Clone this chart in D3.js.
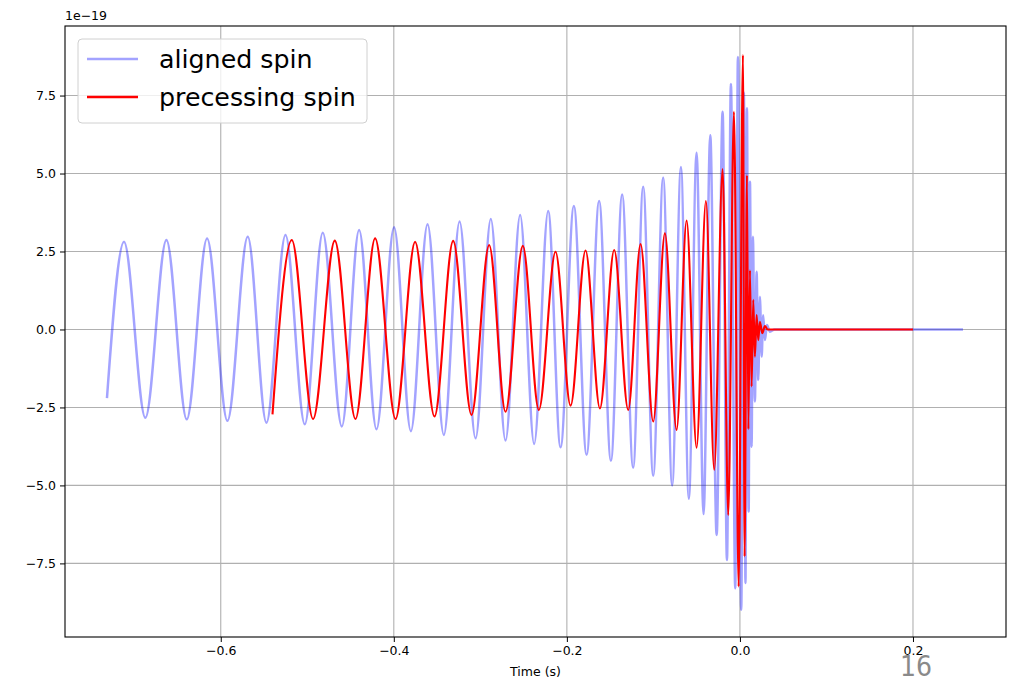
<!DOCTYPE html>
<html>
<head>
<meta charset="utf-8">
<script src="https://cdn.jsdelivr.net/npm/d3@7"></script>
<style>
  body { margin: 0; background: #fff; }
  svg { font-family: "DejaVu Sans", sans-serif; }
</style>
</head>
<body>
<div id="chart"></div>
<script>
// waveform extrema (time in s, strain in 1e-19)
var alignedT = [-0.7315, -0.7118, -0.6871, -0.6628, -0.6393, -0.6158, -0.5923, -0.5688, -0.5472, -0.5252,
  -0.5029, -0.4821, -0.4601, -0.4401, -0.4200, -0.3997, -0.3803, -0.3610, -0.3422, -0.3240,
  -0.3055, -0.2879, -0.2709, -0.2540, -0.2378, -0.2216, -0.2073, -0.1919, -0.1772, -0.1627,
  -0.1491, -0.1361, -0.1234, -0.1118, -0.1002, -0.0887, -0.0783, -0.0682, -0.0590, -0.0501,
  -0.0420, -0.0343, -0.0269, -0.0200, -0.0150, -0.0104, -0.0054, -0.0023, 0.0015, 0.0046,
  0.0064, 0.0081, 0.0101, 0.0116, 0.0135, 0.0150, 0.0173, 0.0193, 0.0212, 0.0231,
  0.0251, 0.0269, 0.0289, 0.0312, 0.0347, 0.0400, 0.2578];
var alignedH = [-2.20, 2.81, -2.83, 2.87, -2.88, 2.92, -2.93, 2.97, -2.99, 3.03,
  -3.04, 3.10, -3.11, 3.19, -3.20, 3.28, -3.26, 3.37, -3.38, 3.46,
  -3.49, 3.54, -3.56, 3.67, -3.67, 3.80, -3.78, 3.96, -4.02, 4.12,
  -4.21, 4.33, -4.43, 4.58, -4.69, 4.87, -5.00, 5.21, -5.43, 5.67,
  -5.92, 6.23, -6.59, 6.98, -7.39, 7.87, -8.30, 8.74, -8.99, 7.60,
  -8.13, 7.09, -5.84, 4.74, -3.76, 2.97, -2.31, 1.85, -1.62, 1.05,
  -0.87, 0.46, -0.34, 0.14, -0.07, 0.0, 0.0];

var precessingT = [-0.5402, -0.5179, -0.4933, -0.4682, -0.4443, -0.4216, -0.3980, -0.3754, -0.3530, -0.3314,
  -0.3102, -0.2898, -0.2709, -0.2509, -0.2324, -0.2131, -0.1957, -0.1784, -0.1618, -0.1453,
  -0.1291, -0.1148, -0.1002, -0.0867, -0.0732, -0.0616, -0.0501, -0.0393, -0.0297, -0.0200,
  -0.0135, -0.0069, -0.0015, 0.0035, 0.0054, 0.0081, 0.0098, 0.0116, 0.0135, 0.0154,
  0.0173, 0.0193, 0.0212, 0.0231, 0.0258, 0.0289, 0.0320, 0.2000];
var precessingH = [-2.72, 2.87, -2.87, 2.85, -2.87, 2.92, -2.87, 2.81, -2.79, 2.84,
  -2.74, 2.71, -2.64, 2.68, -2.58, 2.49, -2.44, 2.53, -2.53, 2.55,
  -2.58, 2.74, -2.95, 3.08, -3.22, 3.49, -3.79, 4.12, -4.50, 5.14,
  -5.95, 6.98, -8.24, 8.80, -7.28, 4.95, -3.20, 1.90, -1.83, 0.95,
  -0.87, 0.46, -0.34, 0.25, -0.12, 0.11, 0.0, 0.0];

var xTicks = [-0.6, -0.4, -0.2, 0.0, 0.2];
var yTicks = [-7.5, -5.0, -2.5, 0.0, 2.5, 5.0, 7.5];
var seriesNames = ['aligned spin', 'precessing spin'];

var width = 1015,
    height = 679,
    padL = 65, padR = 1006, padT = 26, padB = 637;

var svg = d3.select('#chart').append('svg').attr('width', width).attr('height', height);

var xScale = d3.scaleLinear().domain([-0.78, 0.3075]).range([padL, padR]);
var yScale = d3.scaleLinear().domain([-9.86, 9.73]).range([padB, padT]);

// grid
svg.append('g').selectAll('line').data(xTicks).enter().append('line')
  .attr('x1', function(d) { return xScale(d); }).attr('x2', function(d) { return xScale(d); })
  .attr('y1', padT).attr('y2', padB)
  .attr('stroke', '#b0b0b0').attr('stroke-width', 1.1);
svg.append('g').selectAll('line').data(yTicks).enter().append('line')
  .attr('y1', function(d) { return yScale(d); }).attr('y2', function(d) { return yScale(d); })
  .attr('x1', padL).attr('x2', padR)
  .attr('stroke', '#b0b0b0').attr('stroke-width', 1.1);

svg.append('clipPath').attr('id', 'clip').append('rect')
  .attr('x', padL).attr('y', padT).attr('width', padR - padL).attr('height', padB - padT);

var line = d3.line()
  .x(function(d) { return xScale(d[0]); })
  .y(function(d) { return yScale(d[1]); })
  .curve(d3.curveMonotoneX);

var aligned = d3.zip(alignedT, alignedH);
var precessing = d3.zip(precessingT, precessingH);

var plot = svg.append('g').attr('clip-path', 'url(#clip)');
plot.append('path').attr('d', line(aligned))
  .attr('fill', 'none').attr('stroke', '#0000ff').attr('stroke-opacity', 0.36)
  .attr('stroke-width', 2.5).attr('stroke-linejoin', 'round');
plot.append('path').attr('d', line(precessing))
  .attr('fill', 'none').attr('stroke', '#ff0000')
  .attr('stroke-width', 2.1).attr('stroke-linejoin', 'round');

// axes
var fmt = d3.format('.1f');
var xAxis = d3.axisBottom(xScale).tickValues(xTicks).tickFormat(fmt).tickSize(5).tickSizeOuter(0).tickPadding(4);
var yAxis = d3.axisLeft(yScale).tickValues(yTicks).tickFormat(fmt).tickSize(5).tickSizeOuter(0).tickPadding(4);

var gx = svg.append('g').attr('transform', 'translate(0,' + padB + ')').call(xAxis);
var gy = svg.append('g').attr('transform', 'translate(' + padL + ',0)').call(yAxis);
[gx, gy].forEach(function(g) {
  g.select('.domain').remove();
  g.selectAll('text').attr('font-size', 12.5).attr('font-family', '"DejaVu Sans", sans-serif').attr('fill', '#000');
  g.selectAll('line').attr('stroke', '#000');
});

svg.append('rect').attr('x', padL).attr('y', padT).attr('width', padR - padL).attr('height', padB - padT)
  .attr('fill', 'none').attr('stroke', '#000').attr('stroke-width', 1.1);

svg.append('text').attr('x', padL).attr('y', 20).attr('font-size', 12.5).text('1e\u221219');
svg.append('text').attr('x', (padL + padR) / 2).attr('y', 676).attr('text-anchor', 'middle')
  .attr('font-size', 12.5).text('Time (s)');

// legend
var legend = svg.append('g');
legend.append('rect').attr('x', 78).attr('y', 39).attr('width', 289).attr('height', 84).attr('rx', 4)
  .attr('fill', '#fff').attr('fill-opacity', 0.8).attr('stroke', '#d0d0d0');
var legendColors = [['#0000ff', 0.36], ['#ff0000', 1]];
seriesNames.forEach(function(name, i) {
  var yy = 59 + i * 38;
  legend.append('line').attr('x1', 87).attr('x2', 138).attr('y1', yy).attr('y2', yy)
    .attr('stroke', legendColors[i][0]).attr('stroke-opacity', legendColors[i][1]).attr('stroke-width', 2.3);
  legend.append('text').attr('x', 159).attr('y', yy).attr('dy', '0.35em')
    .attr('font-size', 25.3).attr('fill', '#000').text(name);
});

// slide page number
svg.append('text').attr('x', 916).attr('y', 676).attr('text-anchor', 'middle')
  .attr('font-family', '"DejaVu Sans Condensed", "Liberation Sans Narrow", sans-serif')
  .attr('font-stretch', 'condensed')
  .attr('font-size', 28).attr('fill', '#8a8a8a').text('16');
</script>
</body>
</html>
